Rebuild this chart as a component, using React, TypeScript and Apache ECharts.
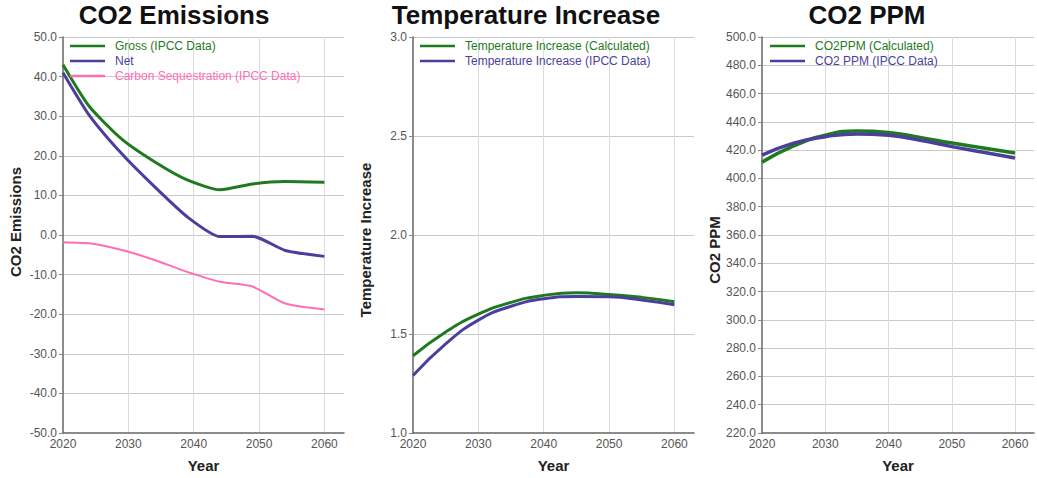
import React, { useEffect, useRef } from "react";
import * as echarts from "echarts";

// ---- Data ----
const emissionYears = [2020, 2024, 2029, 2034, 2039, 2044, 2049, 2054, 2060];
const grossEmissions = [43.0, 32.5, 24.2, 18.5, 13.9, 11.4, 12.9, 13.5, 13.3];
const netEmissions = [41.0, 30.3, 20.5, 12.2, 4.6, -0.4, -0.3, -3.9, -5.4];
const carbonSequestration = [-1.8, -2.1, -3.8, -6.3, -9.3, -11.8, -13.0, -17.3, -18.8];

const fiveYears = [2020, 2025, 2030, 2035, 2040, 2045, 2050, 2055, 2060];
const tempCalculated = [1.39, 1.51, 1.6, 1.66, 1.695, 1.708, 1.7, 1.685, 1.663];
const tempIpcc = [1.29, 1.45, 1.57, 1.64, 1.678, 1.69, 1.688, 1.672, 1.648];

const ppmCalculated = [411.5, 423.0, 430.5, 433.5, 432.5, 429.0, 425.0, 421.5, 418.0];
const ppmIpcc = [416.5, 425.0, 429.5, 431.5, 430.5, 427.0, 422.5, 418.5, 414.5];

const titles = ["CO2 Emissions", "Temperature Increase", "CO2 PPM"];
const yNames = ["CO2 Emissions", "Temperature Increase", "CO2 PPM"];
const xName = "Year";

const GREEN = "#1f7a1f";
const PURPLE = "#4b3f9e";
const PINK = "#ff6eb4";
const FONT = "Liberation Sans, Arial, sans-serif";

const zip = (xs: number[], ys: number[]) => xs.map((x, i) => [x, ys[i]]);

export default function App() {
  const ref = useRef<HTMLDivElement>(null);
  useEffect(() => {
    document.body.style.margin = "0";
    if (!ref.current) return;
    const chart = echarts.init(ref.current, undefined, { renderer: "svg" });

    const gridLefts = [63, 413, 762];
    const gridW = 281;
    const yAxes = [
      { min: -50, max: 50, interval: 10, dec: 1, pad: [0, 0, 0, 26] },
      { min: 1, max: 3, interval: 0.5, dec: 1, pad: [0, 10, 0, 0] },
      { min: 220, max: 500, interval: 20, dec: 1, pad: [0, 30, 0, 0] },
    ];

    const grid = gridLefts.map((l) => ({ left: l, top: 37, width: gridW, height: 396 }));

    const xAxis = gridLefts.map((_, i) => ({
      type: "value",
      gridIndex: i,
      min: 2020,
      max: 2063,
      interval: 10,
      name: xName,
      nameLocation: "middle",
      nameGap: 25,
      nameTextStyle: { fontFamily: FONT, fontSize: 15, fontWeight: "bold", color: "#222" },
      axisLine: { show: true, onZero: false, lineStyle: { color: "#666", width: 1.5 } },
      axisTick: { show: false },
      axisLabel: {
        fontFamily: FONT,
        fontSize: 12,
        color: "#555",
        margin: 5,
        formatter: (v: number) => (v % 10 === 0 ? String(v) : ""),
      },
      splitLine: { show: true, showMinLine: false, showMaxLine: false, lineStyle: { color: "#dcdcdc", width: 1 } },
    }));

    const yAxis = yAxes.map((a, i) => ({
      type: "value",
      gridIndex: i,
      min: a.min,
      max: a.max,
      interval: a.interval,
      name: yNames[i],
      nameLocation: "middle",
      nameGap: 40,
      nameTextStyle: { fontFamily: FONT, fontSize: 15, fontWeight: "bold", color: "#222", padding: a.pad },
      axisLine: { show: true, onZero: false, lineStyle: { color: "#666", width: 1.5 } },
      axisTick: { show: true, length: 4, lineStyle: { color: "#888" } },
      axisLabel: {
        fontFamily: FONT,
        fontSize: 12,
        color: "#555",
        margin: 6,
        formatter: (v: number) => v.toFixed(a.dec),
      },
      splitLine: { show: true, showMinLine: false, lineStyle: { color: "#c8c8c8", width: 1 } },
    }));

    const mkSeries = (name: string, xi: number, xs: number[], ys: number[], color: string, width: number) => ({
      type: "line",
      name,
      xAxisIndex: xi,
      yAxisIndex: xi,
      data: zip(xs, ys),
      symbol: "none",
      smooth: xi === 0 ? 0.2 : 0.5,
      lineStyle: { color, width },
      itemStyle: { color },
    });

    const series = [
      mkSeries("Gross (IPCC Data)", 0, emissionYears, grossEmissions, GREEN, 3),
      mkSeries("Net", 0, emissionYears, netEmissions, PURPLE, 3),
      mkSeries("Carbon Sequestration (IPCC Data)", 0, emissionYears, carbonSequestration, PINK, 2),
      mkSeries("Temperature Increase (Calculated)", 1, fiveYears, tempCalculated, GREEN, 3),
      mkSeries("Temperature Increase (IPCC Data)", 1, fiveYears, tempIpcc, PURPLE, 3),
      mkSeries("CO2PPM (Calculated)", 2, fiveYears, ppmCalculated, GREEN, 3.5),
      mkSeries("CO2 PPM (IPCC Data)", 2, fiveYears, ppmIpcc, PURPLE, 3.5),
    ];

    const legendFor = (left: number, items: { name: string; color: string }[]) => ({
      orient: "vertical",
      left,
      top: 35,
      icon: "rect",
      itemWidth: 35,
      itemHeight: 2.5,
      itemGap: 3,
      selectedMode: false,
      textStyle: { fontFamily: FONT, fontSize: 12, padding: [0, 0, 0, 5] },
      data: items.map((it) => ({ name: it.name, itemStyle: { color: it.color }, textStyle: { color: it.color } })),
    });

    const legend = [
      legendFor(65, [
        { name: "Gross (IPCC Data)", color: GREEN },
        { name: "Net", color: PURPLE },
        { name: "Carbon Sequestration (IPCC Data)", color: PINK },
      ]),
      legendFor(415, [
        { name: "Temperature Increase (Calculated)", color: GREEN },
        { name: "Temperature Increase (IPCC Data)", color: PURPLE },
      ]),
      legendFor(765, [
        { name: "CO2PPM (Calculated)", color: GREEN },
        { name: "CO2 PPM (IPCC Data)", color: PURPLE },
      ]),
    ];

    const titleCenters = [174, 526, 867];
    const title = titles.map((t, i) => ({
      text: t,
      left: titleCenters[i],
      top: 2,
      textAlign: "center",
      padding: 0,
      textStyle: { fontFamily: FONT, fontSize: 26, lineHeight: 26, fontWeight: "bold", color: "#111" },
    }));

    chart.setOption({
      animation: false,
      backgroundColor: "#ffffff",
      title,
      legend,
      grid,
      xAxis,
      yAxis,
      series,
    } as any);

    return () => chart.dispose();
  }, []);

  return <div ref={ref} style={{ width: 1037, height: 478 }} />;
}
